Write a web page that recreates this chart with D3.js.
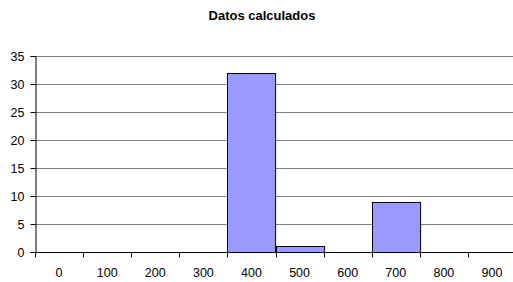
<!DOCTYPE html>
<html>
<head>
<meta charset="utf-8">
<script src="https://cdn.jsdelivr.net/npm/d3@7"></script>
<style>
  body { margin: 0; background: #fff; }
  svg { display: block; font-family: "Liberation Sans", Arial, sans-serif; }
</style>
</head>
<body>
<div id="chart"></div>
<script>
// bins and counts
var categories = ["0", "100", "200", "300", "400", "500", "600", "700", "800", "900"];
var counts = [0, 0, 0, 0, 32, 1, 0, 9, 0, 0];
var yTicks = [0, 5, 10, 15, 20, 25, 30, 35];
var title = "Datos calculados";

var width = 513, height = 282;
var margin = {top: 56, left: 35, bottom: 30};
var plotRight = 516;
var fontSize = "12.5px";

var data = categories.map(function(c, i) { return {cat: c, value: counts[i]}; });

var svg = d3.select("#chart").append("svg")
    .attr("width", width)
    .attr("height", height);

var x = d3.scaleBand().domain(categories).range([margin.left, plotRight]).padding(0);
var y = d3.scaleLinear().domain([0, 35]).range([252, margin.top]);

// title
svg.append("text")
    .attr("x", 262)
    .attr("y", 20)
    .attr("text-anchor", "middle")
    .attr("font-size", "13px")
    .attr("font-weight", "bold")
    .text(title);

// gridlines
svg.append("g")
    .selectAll("line")
    .data(yTicks.slice(1))
    .enter().append("line")
    .attr("x1", margin.left)
    .attr("x2", plotRight)
    .attr("y1", function(d) { return Math.round(y(d)) + 0.5; })
    .attr("y2", function(d) { return Math.round(y(d)) + 0.5; })
    .attr("stroke", "#808080")
    .attr("stroke-width", 1);

// bars
svg.append("g")
    .selectAll("rect")
    .data(data.filter(function(d) { return d.value > 0; }))
    .enter().append("rect")
    .attr("x", function(d) { return Math.round(x(d.cat)) + 0.5; })
    .attr("y", function(d) { return Math.round(y(d.value)) + 0.5; })
    .attr("width", x.bandwidth())
    .attr("height", function(d) { return Math.round(y(0)) - Math.round(y(d.value)); })
    .attr("fill", "#9999FF")
    .attr("stroke", "#000")
    .attr("stroke-width", 1);

// y axis
var yAxis = svg.append("g")
    .attr("transform", "translate(" + (margin.left + 0.5) + ",0)")
    .call(d3.axisLeft(y).tickValues(yTicks).tickSize(5).tickPadding(6));
yAxis.select(".domain").attr("stroke", "#000");
yAxis.selectAll("text").attr("font-size", fontSize).attr("fill", "#000");

// x axis
var xAxis = svg.append("g")
    .attr("transform", "translate(0," + (Math.round(y(0)) + 0.5) + ")")
    .call(d3.axisBottom(x).tickSize(0).tickPadding(16));
xAxis.select(".domain").attr("d", "M" + margin.left + ",0H" + plotRight);
xAxis.selectAll("text").attr("font-size", fontSize).attr("fill", "#000");

// x tick marks between bins
xAxis.append("g")
    .selectAll("line")
    .data(categories)
    .enter().append("line")
    .attr("x1", function(d) { return Math.round(x(d)) + 0.5; })
    .attr("x2", function(d) { return Math.round(x(d)) + 0.5; })
    .attr("y1", 0)
    .attr("y2", 5)
    .attr("stroke", "#000");
</script>
</body>
</html>
